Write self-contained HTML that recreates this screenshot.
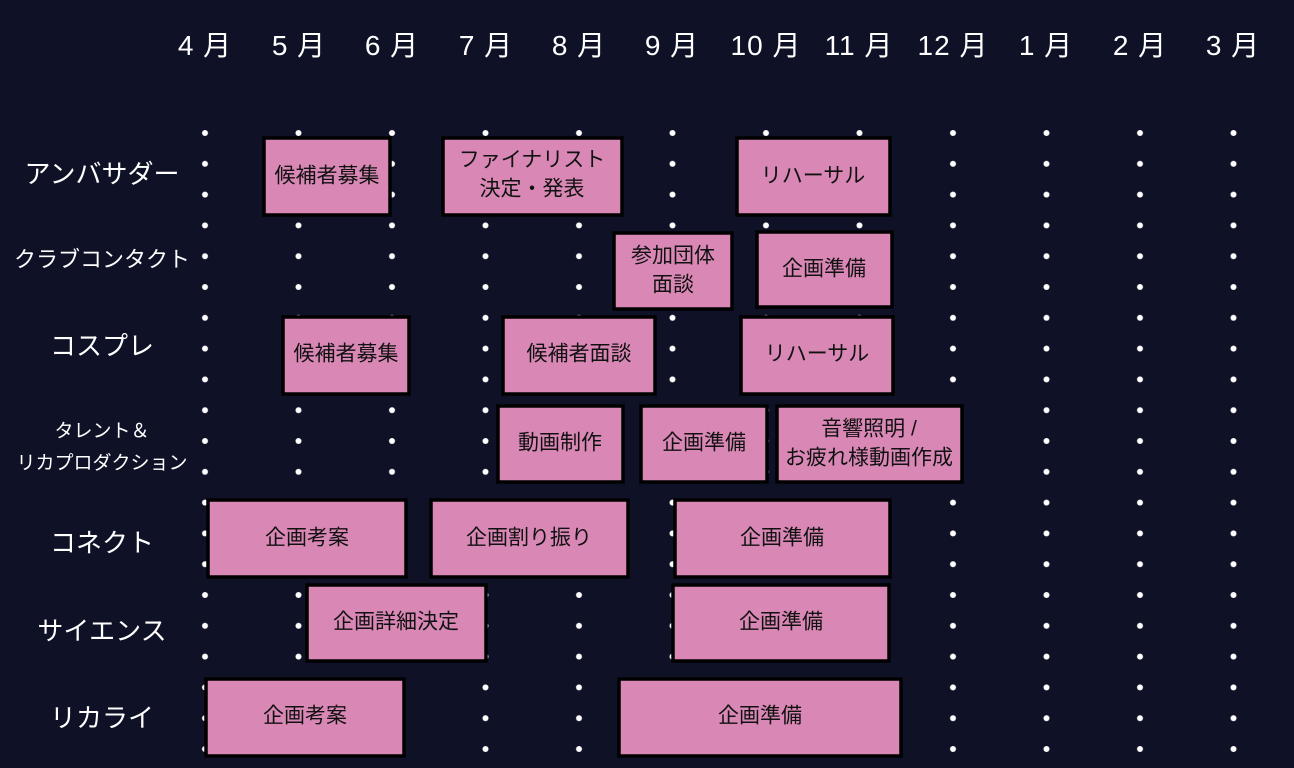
<!DOCTYPE html>
<html><head><meta charset="utf-8"><style>
html,body{margin:0;padding:0;background:#0f1226;}
svg{display:block}
text{font-family:"Liberation Sans","Noto Sans CJK JP",sans-serif;}
.m{fill:#fff;font-size:28px;text-anchor:middle;letter-spacing:1px}
.r{fill:#fff;text-anchor:middle}
.b{fill:#d988b5;stroke:#000;stroke-width:3.5}
.t{fill:#111;font-size:21px;text-anchor:middle;dominant-baseline:central}
</style></head><body>
<svg width="1294" height="768" xmlns="http://www.w3.org/2000/svg">
<defs>
<pattern id="p" patternUnits="userSpaceOnUse" x="158.25" y="117.6" width="93.5" height="30.8">
<circle cx="46.75" cy="15.4" r="3" fill="#fff"/>
</pattern>
</defs>
<rect width="1294" height="768" fill="#0f1226"/>
<rect x="158.25" y="117.6" width="1122" height="646.8" fill="url(#p)"/>
<g class="m">
<text x="205" y="55">4 月</text><text x="299" y="55">5 月</text><text x="392" y="55">6 月</text>
<text x="486" y="55">7 月</text><text x="579" y="55">8 月</text><text x="672" y="55">9 月</text>
<text x="766" y="55">10 月</text><text x="859" y="55">11 月</text><text x="953" y="55">12 月</text>
<text x="1046" y="55">1 月</text><text x="1140" y="55">2 月</text><text x="1233" y="55">3 月</text>
</g>
<g class="r">
<text x="102" y="183" font-size="26">アンバサダー</text>
<text x="102" y="267" font-size="22">クラブコンタクト</text>
<text x="102" y="355" font-size="26">コスプレ</text>
<text x="102" y="437" font-size="19">タレント＆</text>
<text x="102" y="469" font-size="19">リカプロダクション</text>
<text x="102" y="552" font-size="26">コネクト</text>
<text x="102" y="640" font-size="26">サイエンス</text>
<text x="102" y="727" font-size="26">リカライ</text>
</g>
<g>
<rect class="b" x="264" y="138" width="126" height="77"/><text class="t" x="327" y="176">候補者募集</text>
<rect class="b" x="443" y="138" width="179" height="77"/><text class="t" x="532" y="160">ファイナリスト</text><text class="t" x="532" y="189">決定・発表</text>
<rect class="b" x="737" y="138" width="153" height="77"/><text class="t" x="813" y="176">リハーサル</text>
<rect class="b" x="614" y="233" width="118" height="76"/><text class="t" x="673" y="256">参加団体</text><text class="t" x="673" y="285">面談</text>
<rect class="b" x="757" y="232" width="135" height="75"/><text class="t" x="824" y="269">企画準備</text>
<rect class="b" x="283" y="317" width="126" height="77"/><text class="t" x="346" y="354">候補者募集</text>
<rect class="b" x="503" y="317" width="152" height="77"/><text class="t" x="579" y="354">候補者面談</text>
<rect class="b" x="741" y="317" width="152" height="77"/><text class="t" x="817" y="354">リハーサル</text>
<rect class="b" x="498" y="406" width="125" height="76"/><text class="t" x="560" y="443">動画制作</text>
<rect class="b" x="641" y="406" width="126" height="76"/><text class="t" x="704" y="443">企画準備</text>
<rect class="b" x="777" y="406" width="185" height="76"/><text class="t" x="869" y="429">音響照明 /</text><text class="t" x="869" y="458">お疲れ様動画作成</text>
<rect class="b" x="208" y="500" width="198" height="77"/><text class="t" x="307" y="538">企画考案</text>
<rect class="b" x="431" y="500" width="197" height="77"/><text class="t" x="529" y="538">企画割り振り</text>
<rect class="b" x="675" y="500" width="215" height="77"/><text class="t" x="782" y="538">企画準備</text>
<rect class="b" x="307" y="585" width="179" height="76"/><text class="t" x="396" y="622">企画詳細決定</text>
<rect class="b" x="673" y="585" width="216" height="76"/><text class="t" x="781" y="622">企画準備</text>
<rect class="b" x="206" y="679" width="198" height="77"/><text class="t" x="305" y="716">企画考案</text>
<rect class="b" x="619" y="679" width="282" height="77"/><text class="t" x="760" y="716">企画準備</text>
</g>
</svg>
</body></html>
